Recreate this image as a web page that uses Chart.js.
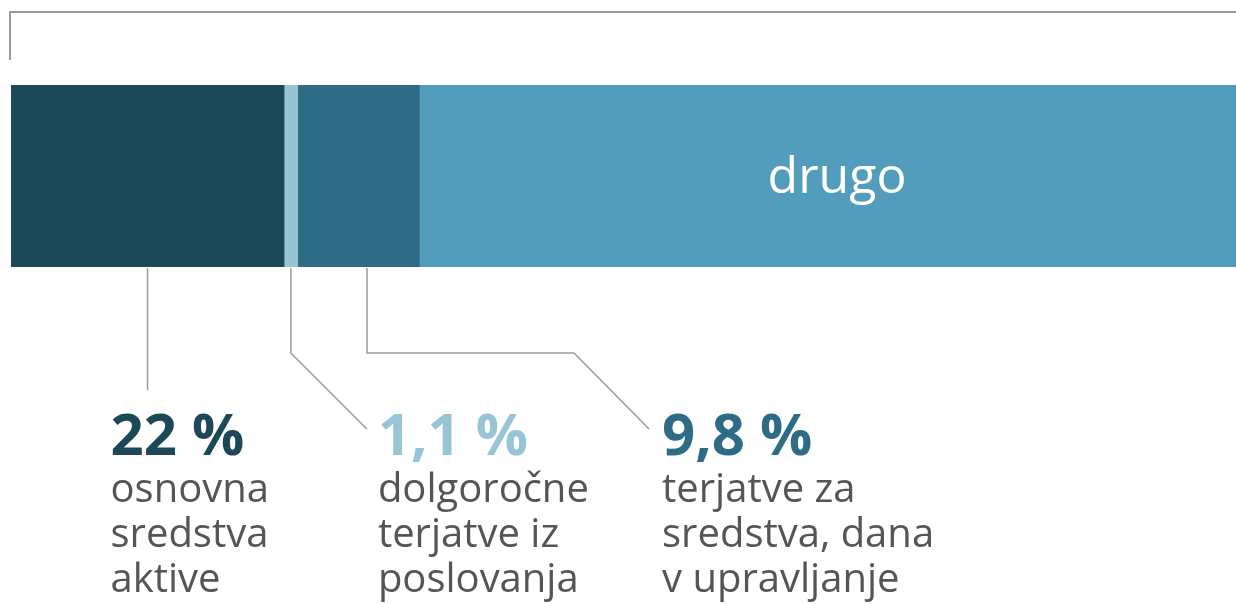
<!DOCTYPE html>
<html>
<head>
<meta charset="utf-8">
<script src="https://cdn.jsdelivr.net/npm/chart.js@4"></script>
<style>
    html, body { margin: 0; padding: 0; background: #fff; }
    #wrap { width: 1236px; height: 604px; }
</style>
</head>
<body>
<div id="wrap"><canvas id="shareChart" width="1236" height="604"></canvas></div>
<script>
/* ===============================
   DATA
================================ */
const segmentNames = ["osnovna sredstva aktive", "dolgoročne terjatve iz poslovanja", "terjatve za sredstva, dana v upravljanje", "drugo"];
const segmentValues = [22, 1.1, 9.8, 67.1];
const segmentColors = ["#1d4858", "#97c5d6", "#2e6b84", "#529dbb"];
const percentLabels = ["22 %", "1,1 %", "9,8 %"];
const descLines = [
    ["osnovna", "sredstva", "aktive"],
    ["dolgoročne", "terjatve iz", "poslovanja"],
    ["terjatve za", "sredstva, dana", "v upravljanje"]
];

/* ===============================
   ANNOTATIONS PLUGIN
================================ */
const LINE_GRAY = "#9a9a9a";

const annotationsPlugin = {
    id: "annotations",
    afterDraw(chart) {
        const ctx = chart.ctx;
        const x = chart.scales.x;
        const area = chart.chartArea;
        const bottom = area.bottom;

        // segment start/end in pixels
        let acc = 0;
        const seg = segmentValues.map(v => {
            const s = x.getPixelForValue(acc);
            acc += v;
            const e = x.getPixelForValue(acc);
            return { s, e, mid: (s + e) / 2 };
        });

        ctx.save();

        // top frame
        ctx.strokeStyle = LINE_GRAY;
        ctx.lineWidth = 2;
        ctx.beginPath();
        ctx.moveTo(10, 60);
        ctx.lineTo(10, 12);
        ctx.lineTo(1236, 12);
        ctx.stroke();

        // leader lines
        ctx.lineWidth = 1.5;
        const elbowY = bottom + 86;
        const textY = bottom + 162;

        ctx.beginPath();
        ctx.moveTo(seg[0].mid, bottom + 1);
        ctx.lineTo(seg[0].mid, bottom + 123);

        ctx.moveTo(seg[1].mid, bottom + 1);
        ctx.lineTo(seg[1].mid, elbowY);
        ctx.lineTo(seg[1].mid + 76, textY);

        const x3 = seg[2].s + (seg[2].e - seg[2].s) * 0.57;
        ctx.moveTo(x3, bottom + 1);
        ctx.lineTo(x3, elbowY);
        ctx.lineTo(x3 + 207, elbowY);
        ctx.lineTo(x3 + 282, textY);
        ctx.stroke();

        // labels under the bar
        const labelX = [seg[0].mid - 37, seg[1].mid + 87, x3 + 295];
        percentLabels.forEach((txt, i) => {
            ctx.fillStyle = segmentColors[i];
            ctx.font = "bold 58px 'Open Sans'";
            ctx.textAlign = "left";
            ctx.textBaseline = "alphabetic";
            ctx.fillText(txt, labelX[i], 455);

            ctx.fillStyle = "#555555";
            ctx.font = "40px 'Open Sans'";
            descLines[i].forEach((ln, j) => {
                ctx.fillText(ln, labelX[i], 502 + j * 45);
            });
        });

        // label inside last segment
        ctx.fillStyle = "#ffffff";
        ctx.font = "50px 'Open Sans'";
        ctx.textAlign = "center";
        ctx.fillText("drugo", 837, 193);

        ctx.restore();
    }
};

/* ===============================
   CHART
================================ */
document.addEventListener("DOMContentLoaded", () => {
    const ctx = document.getElementById("shareChart").getContext("2d");

    new Chart(ctx, {
        type: "bar",
        data: {
            labels: [""],
            datasets: segmentValues.map((v, i) => ({
                label: segmentNames[i],
                data: [v],
                backgroundColor: segmentColors[i],
                borderWidth: 0,
                barPercentage: 1,
                categoryPercentage: 1
            }))
        },
        options: {
            indexAxis: "y",
            responsive: false,
            animation: false,
            layout: { padding: { left: 11, right: 0, top: 85, bottom: 337 } },
            plugins: {
                legend: { display: false },
                tooltip: { enabled: false }
            },
            scales: {
                x: { stacked: true, min: 0, max: 98.7, display: false },
                y: { stacked: true, display: false }
            }
        },
        plugins: [annotationsPlugin]
    });
});
</script>
</body>
</html>
